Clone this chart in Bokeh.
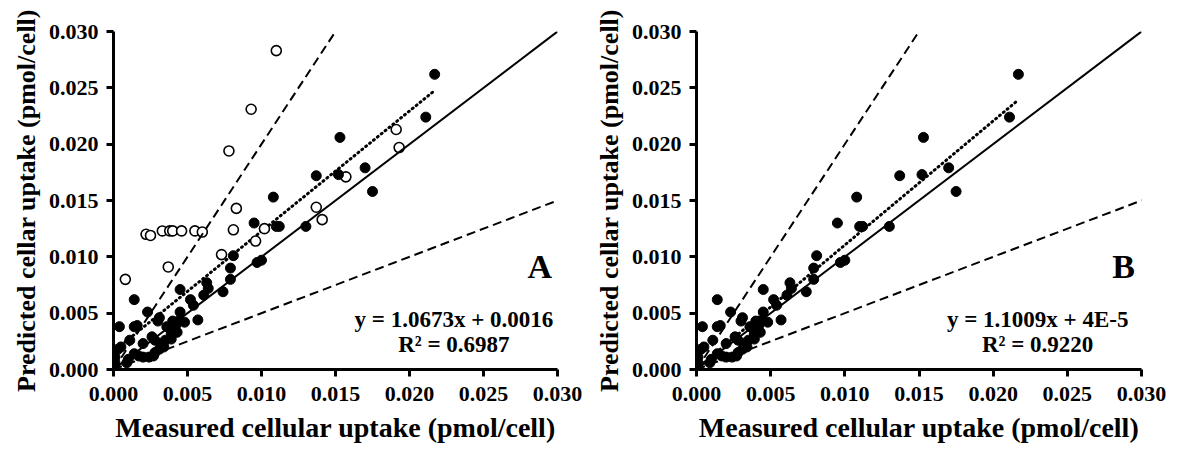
from bokeh.plotting import figure
from bokeh.layouts import row
from bokeh.models import Slope, Label, FixedTicker, NumeralTickFormatter, Range1d
from bokeh.embed import file_html
from bokeh.resources import INLINE

# Filled points (shown in both panels)
filled_x = [0.0217, 0.0211, 0.0170, 0.0175, 0.0153, 0.0137, 0.0152, 0.0108, 0.0095, 0.0110,
            0.0112, 0.0130, 0.0081, 0.0097, 0.0100, 0.0079, 0.0079, 0.0074, 0.0063, 0.0064,
            0.0061, 0.0045, 0.0052, 0.0054, 0.0014, 0.0023, 0.0031, 0.0030, 0.0045, 0.0040,
            0.0044, 0.0048, 0.0042, 0.0057, 0.0004, 0.0014, 0.0016, 0.0036, 0.0039, 0.0043,
            0.0026, 0.0028, 0.0011, 0.0020, 0.0032, 0.0035, 0.0039, 0.0031, 0.0034, 0.0005,
            0.0003, 0.0014, 0.0017, 0.0020, 0.0024, 0.0028, 0.0027, 0.0001, 0.0001, 0.0010,
            0.0009, 0.0000]
filled_y = [0.0262, 0.0224, 0.0179, 0.0158, 0.0206, 0.0172, 0.0173, 0.0153, 0.0130, 0.0127,
            0.0127, 0.0127, 0.0101, 0.0095, 0.0097, 0.0090, 0.0080, 0.0069, 0.0077, 0.0072,
            0.0066, 0.0071, 0.0062, 0.0057, 0.0062, 0.0051, 0.0046, 0.0043, 0.0051, 0.0043,
            0.0043, 0.0042, 0.0039, 0.0044, 0.0038, 0.0038, 0.0039, 0.0038, 0.0032, 0.0033,
            0.0029, 0.0026, 0.0026, 0.0023, 0.0023, 0.0026, 0.0027, 0.0018, 0.0020, 0.0020,
            0.0018, 0.0014, 0.0012, 0.0011, 0.0011, 0.0015, 0.0012, 0.0011, 0.0006, 0.0009,
            0.0006, 0.0002]

# Open points (panel A only)
open_x = [0.0110, 0.0093, 0.0078, 0.0157, 0.0191, 0.0193, 0.0083, 0.0137, 0.0141, 0.0102,
          0.0081, 0.0096, 0.0073, 0.0022, 0.0025, 0.0033, 0.0038, 0.0040, 0.0046, 0.0055,
          0.0060, 0.0037, 0.0008]
open_y = [0.0283, 0.0231, 0.0194, 0.0171, 0.0213, 0.0197, 0.0143, 0.0144, 0.0133, 0.0125,
          0.0124, 0.0114, 0.0102, 0.0120, 0.0119, 0.0123, 0.0123, 0.0123, 0.0123, 0.0123,
          0.0122, 0.0091, 0.0080]

ticks = [0.000, 0.005, 0.010, 0.015, 0.020, 0.025, 0.030]

fit_a = (1.0673, 0.0016)
fit_b = (1.1009, 0.00004)
eq_a = ["y = 1.0673x + 0.0016", "R\u00b2 = 0.6987"]
eq_b = ["y = 1.1009x + 4E-5", "R\u00b2 = 0.9220"]

FONT = "Liberation Serif"


def make(width, left, right, fit, eq, letter, show_open):
    p = figure(width=width, height=451, x_range=Range1d(0, 0.03), y_range=Range1d(0, 0.03),
               output_backend="svg", toolbar_location=None,
               min_border_left=left, min_border_right=right,
               min_border_top=31, min_border_bottom=82)
    p.xgrid.visible = False
    p.ygrid.visible = False
    p.outline_line_color = None
    p.background_fill_color = "white"
    p.border_fill_color = "white"
    for ax in (p.xaxis[0], p.yaxis[0]):
        ax.ticker = FixedTicker(ticks=ticks)
        ax.formatter = NumeralTickFormatter(format="0.000")
        ax.axis_line_width = 3
        ax.axis_line_color = "black"
        ax.major_tick_line_width = 3
        ax.major_tick_line_color = "black"
        ax.major_tick_in = 0
        ax.major_tick_out = 7
        ax.minor_tick_line_color = None
        ax.major_label_text_font = FONT
        ax.major_label_text_font_style = "bold"
        ax.major_label_text_font_size = "22px"
        ax.major_label_text_color = "black"
        ax.axis_label_text_font = FONT
        ax.axis_label_text_font_style = "bold"
        ax.axis_label_text_color = "black"
    p.xaxis.axis_label_text_font_size = "28px"
    p.yaxis.axis_label_text_font_size = "26px"
    p.xaxis.axis_label = "Measured cellular uptake (pmol/cell)"
    p.yaxis.axis_label = "Predicted cellar uptake (pmol/cell)"
    p.xaxis.major_label_standoff = 10
    p.xaxis.axis_label_standoff = 8
    p.yaxis.major_label_standoff = 8
    p.yaxis.axis_label_standoff = 5

    p.add_layout(Slope(gradient=1.0, y_intercept=0, line_color="black", line_width=2))
    p.add_layout(Slope(gradient=2.0, y_intercept=0, line_color="black", line_width=2,
                       line_dash="9 5"))
    p.add_layout(Slope(gradient=0.5, y_intercept=0, line_color="black", line_width=2,
                       line_dash="9 5"))

    xs = filled_x + (open_x if show_open else [])
    x0, x1 = min(xs), max(xs)
    p.line([x0, x1], [fit[0] * x0 + fit[1], fit[0] * x1 + fit[1]], line_color="black",
           line_width=3, line_dash="1 4", line_cap="round")

    if show_open:
        p.scatter(open_x, open_y, size=10, fill_color="white", line_color="black",
                  line_width=1.6)
    p.scatter(filled_x, filled_y, size=10, fill_color="black", line_color="black")

    p.add_layout(Label(x=0.0230, y=0.0044, text=eq[0], text_align="center",
                       text_baseline="middle", text_font=FONT, text_font_style="bold",
                       text_font_size="23px", text_color="black"))
    p.add_layout(Label(x=0.0230, y=0.0022, text=eq[1], text_align="center",
                       text_baseline="middle", text_font=FONT, text_font_style="bold",
                       text_font_size="23px", text_color="black"))
    p.add_layout(Label(x=0.0288, y=0.0091, text=letter, text_align="center",
                       text_baseline="middle", text_font=FONT, text_font_style="bold",
                       text_font_size="34px", text_color="black"))
    return p


pa = make(591, 113, 34, fit_a, eq_a, "A", True)
pb = make(578, 104, 28, fit_b, eq_b, "B", False)
layout = row(pa, pb)

open("out.html", "w").write(file_html(layout, INLINE))
